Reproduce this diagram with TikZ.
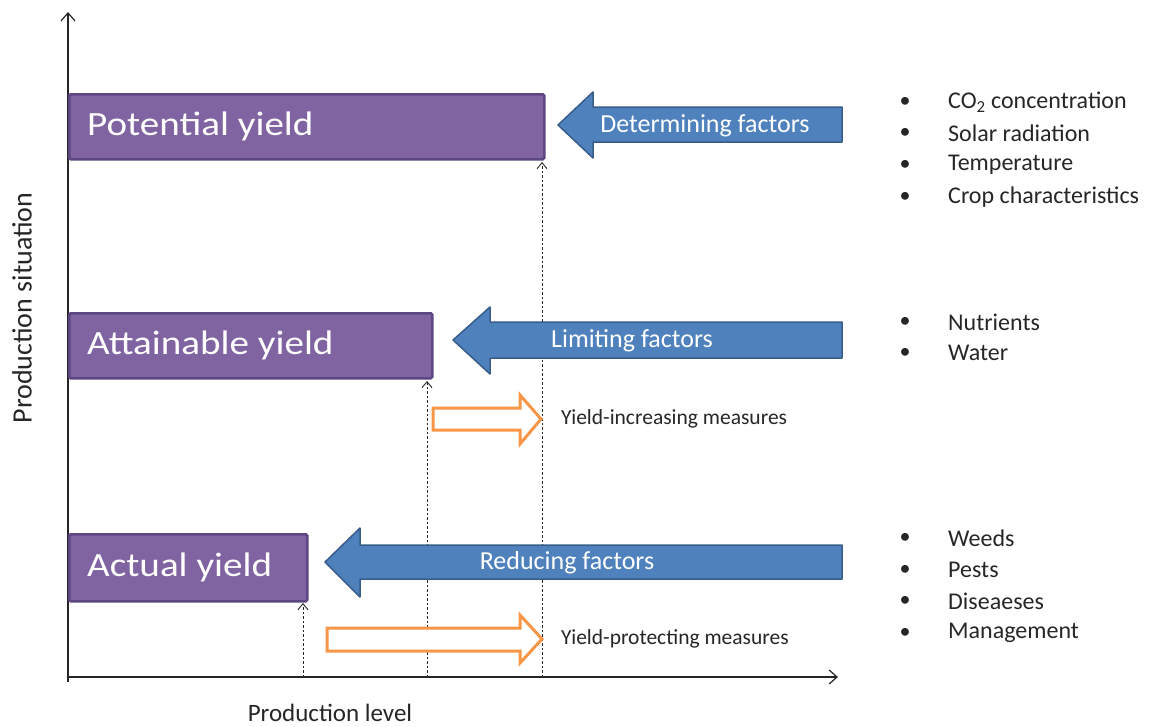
\documentclass[tikz,border=0pt]{standalone}
\usepackage{fontspec}
\setmainfont{Carlito}
\newfontfamily\widefont{Carlito}[FakeStretch=1.15]
\usetikzlibrary{arrows.meta}
\definecolor{ypurple}{HTML}{8064A2}
\definecolor{ypurpleD}{HTML}{5C4782}
\definecolor{fblue}{HTML}{4F81BD}
\definecolor{fblueD}{HTML}{385D8A}
\definecolor{morange}{HTML}{F79646}
\definecolor{txtgray}{HTML}{262626}
\tikzset{
  ybox/.style={draw=ypurpleD, line width=2.5pt, fill=ypurple, rounded corners=1.5pt, inner sep=0pt, anchor=north west},
  ytext/.style={text=white, anchor=west, inner sep=0pt, font=\widefont\fontsize{34}{40}\selectfont},
  farrow/.style={draw=fblueD, line width=1.5pt, fill=fblue, line join=round},
  ftext/.style={text=white, inner sep=0pt, font=\fontsize{26}{30}\selectfont},
  marrow/.style={draw=morange, line width=3pt, fill=white, line join=miter},
  mtext/.style={text=txtgray, anchor=west, inner sep=0pt, font=\fontsize{21.5}{25}\selectfont},
  axis/.style={line width=1.2pt, draw=black!85, -{Straight Barb[length=8pt,width=14pt,line width=1.2pt]}},
  guide/.style={line width=0.9pt, draw=black!85, dash pattern=on 2.5pt off 2pt, -{Straight Barb[length=6pt,width=10pt,line width=0.9pt]}},
  blt/.style={anchor=center, inner sep=0pt, font=\fontsize{22}{26}\selectfont, text=txtgray},
  item/.style={anchor=west, inner sep=0pt, font=\fontsize{24}{28}\selectfont, text=txtgray},
  lab/.style={inner sep=0pt, text=txtgray}
}
\begin{document}
\begin{tikzpicture}[x=1pt,y=-1pt]
\useasboundingbox (0,0) rectangle (1166,726);
% axes
\coordinate (O) at (68,677);
\coordinate (ytop) at (68,12);
\coordinate (xend) at (838,677);
\draw[axis] (68,682) -- (ytop);
\draw[axis] (O) -- (xend);
\node[lab, rotate=90, font=\fontsize{28}{32}\selectfont] (ylab) at (22,308) {Production situation};
\node[lab, font=\fontsize{25}{30}\selectfont] (xlab) at (330,713) {Production level};
% dashed guides
\coordinate (g1) at (542,677);
\coordinate (g2) at (427,677);
\coordinate (g3) at (303,677);
% purple boxes
\node[ybox, minimum width=475pt, minimum height=65pt] (pot) at (68,93) {};
\node[ybox, minimum width=363pt, minimum height=65pt] (att) at (68,312) {};
\node[ybox, minimum width=238pt, minimum height=67pt] (act) at (68,533) {};
\node[ytext] (pott) at (87,126) {Potential yield};
\node[ytext] (attt) at (87,345) {Attainable yield};
\node[ytext] (actt) at (87,567) {Actual yield};
\draw[guide] (g1) -- (542,162);
\draw[guide] (g2) -- (427,381);
\draw[guide] (g3) -- (303,603);
% blue arrows
\draw[farrow] (842,107) -- (593,107) -- (593,92) -- (558,125) -- (593,158) -- (593,142) -- (842,142) -- cycle;
\draw[farrow] (842,322) -- (490,322) -- (490,307) -- (453,340) -- (490,374) -- (490,358) -- (842,358) -- cycle;
\draw[farrow] (842,545) -- (360,545) -- (360,528) -- (325,562) -- (360,597) -- (360,579) -- (842,579) -- cycle;
\node[ftext] (det) at (705,126) {Determining factors};
\node[ftext] (lim) at (632,341) {Limiting factors};
\node[ftext] (red) at (567,563) {Reducing factors};
% orange arrows
\draw[marrow] (433,408) -- (520,408) -- (520,395) -- (541,419) -- (520,444) -- (520,430) -- (433,430) -- cycle;
\draw[marrow] (327,628) -- (520,628) -- (520,615) -- (542,639) -- (520,663) -- (520,651) -- (327,651) -- cycle;
\node[mtext] (inc) at (561,419) {Yield-increasing measures};
\node[mtext] (pro) at (561,639) {Yield-protecting measures};
% bullet lists
\foreach \n/\y/\t in {a/102/{CO\textsubscript{2} concentration},b/133/{Solar radiation},c/165/{Temperature},d/197/{Crop characteristics},
  e/322/{Nutrients},f/353/{Water},
  g/538/{Weeds},h/570/{Pests},i/601/{Diseaeses},j/633/{Management}}{
  \node[blt] (b\n) at (905,\y) {\textbullet};
  \node[item] (t\n) at (948,\y) {\t};
}
\end{tikzpicture}
\end{document}
